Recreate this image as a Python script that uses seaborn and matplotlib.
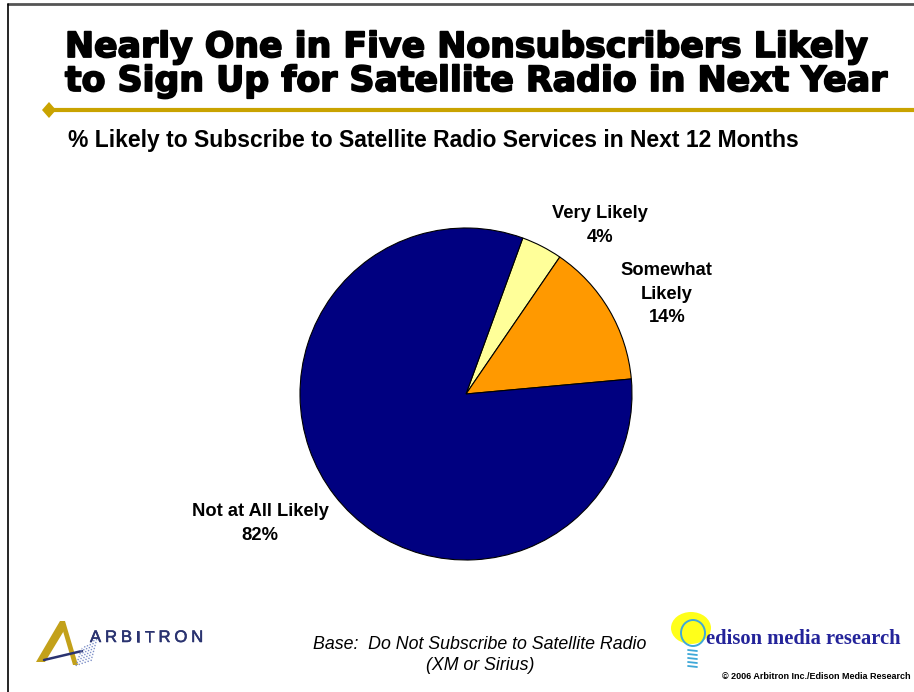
import matplotlib
matplotlib.use("Agg")
import matplotlib.pyplot as plt
import matplotlib.patheffects as pe
import seaborn as sns
from matplotlib.lines import Line2D
from matplotlib.patches import Polygon, Ellipse

# Survey responses: likelihood to subscribe to satellite radio in the next 12 months
categories = ["Very Likely", "Somewhat Likely", "Not at All Likely"]
shares = [4, 14, 82]
label_text = ["Very Likely", "Somewhat\nLikely", "Not at All Likely"]
slice_colors = ["#FFFF99", "#FF9900", "#000080"]

title_lines = ["Nearly One in Five Nonsubscribers Likely",
               "to Sign Up for Satellite Radio in Next Year"]
subtitle = "% Likely to Subscribe to Satellite Radio Services in Next 12 Months"
base_note = "Base:  Do Not Subscribe to Satellite Radio\n(XM or Sirius)"
copyright_note = "\u00a9 2006 Arbitron Inc./Edison Media Research"
arbitron_name = "ARBITRON"
edison_name = "edison media research"

sns.set_theme(style="white")
plt.rcParams["font.family"] = ["Liberation Sans", "DejaVu Sans"]

W, H = 914, 692
fig = plt.figure(figsize=(W / 100, H / 100), dpi=100)
fig.patch.set_facecolor("white")
renderer = fig.canvas.get_renderer()


def fx(x):
    return x / W


def fy(y):
    return 1 - y / H


# slide frame
fig.add_artist(Line2D([fx(8), 1], [fy(4), fy(4)], color="#555555", lw=2))
fig.add_artist(Line2D([fx(8), fx(8)], [fy(4), 0], color="black", lw=1.2))

# title, heavy face
for i, line in enumerate(title_lines):
    fig.text(fx(65), fy(57 + 34 * i), line, family="DejaVu Sans",
             fontweight="bold", fontsize=25, color="black",
             ha="left", va="baseline",
             path_effects=[pe.withStroke(linewidth=1.3, foreground="black")])

# gold rule with diamond
gold = "#C9A300"
fig.add_artist(Line2D([fx(50), 1], [fy(110), fy(110)], color=gold, lw=3))
fig.add_artist(Polygon([[fx(42), fy(110)], [fx(49), fy(102)],
                        [fx(56), fy(110)], [fx(49), fy(118)]],
                       closed=True, facecolor=gold, edgecolor="none",
                       transform=fig.transFigure))

fig.text(fx(68), fy(147), subtitle, fontweight="bold", fontsize=16.45,
         ha="left", va="baseline", color="black")

# pie chart
cx, cy, r = 466, 394, 166
ax = fig.add_axes([fx(cx - r), fy(cy + r), 2 * r / W, 2 * r / H])
ax.pie(shares, colors=slice_colors, startangle=70, counterclock=False,
       wedgeprops=dict(edgecolor="black", linewidth=0.8))
ax.set_xlim(-1, 1)
ax.set_ylim(-1, 1)
ax.set_aspect("equal")
ax.axis("off")

label_pos = [(0.807, 1.015), (1.21, 0.60), (-1.241, -0.78)]
for txt, val, (lx, ly) in zip(label_text, shares, label_pos):
    ax.text(lx, ly, f"{txt}\n{val}%", ha="center", va="center",
            fontweight="bold", fontsize=13.2, linespacing=1.5,
            color="black", clip_on=False)

# footnote
fig.text(fx(480), fy(655), base_note, style="italic", fontsize=12.8,
         ha="center", va="center", linespacing=1.25, color="black")
fig.text(fx(911), fy(679), copyright_note, fontweight="bold", fontsize=6.5,
         ha="right", va="baseline", color="black")

# Arbitron mark
navy = "#2A3370"
fig.add_artist(Polygon([[fx(36), fy(662)], [fx(60), fy(621)], [fx(65), fy(621)],
                        [fx(65), fy(629)], [fx(45), fy(662)]],
                       closed=True, facecolor="#C3A11A", edgecolor="none",
                       transform=fig.transFigure))
fig.add_artist(Polygon([[fx(60), fy(621)], [fx(65), fy(621)], [fx(78), fy(665)],
                        [fx(73), fy(665)]],
                       closed=True, facecolor="#C3A11A", edgecolor="none",
                       transform=fig.transFigure))
fig.add_artist(Line2D([fx(44), fx(82)], [fy(660), fy(651)], color=navy, lw=1.8))
for k in range(6):
    fig.add_artist(Line2D([fx(76 + 3 * k), fx(82 + 3 * k)],
                          [fy(666 - k), fy(648 - 2 * k)],
                          color="#7E90C8", lw=1.0, ls=(0, (1, 1.2))))
# letter-spaced wordmark
x_cursor = 90
for ch in arbitron_name:
    t = fig.text(fx(x_cursor), fy(642), ch, fontsize=12, color=navy,
                 ha="left", va="baseline",
                 path_effects=[pe.withStroke(linewidth=0.4, foreground=navy)])
    x_cursor += t.get_window_extent(renderer).width + 3.9

# Edison mark
blue = "#3FA8D8"
fig.add_artist(Ellipse((fx(691), fy(628)), 40 / W, 32 / H, facecolor="#FFFF1A",
                       edgecolor="none", transform=fig.transFigure))
fig.add_artist(Ellipse((fx(693), fy(633)), 24 / W, 26 / H, facecolor="none",
                       edgecolor=blue, lw=1.4, transform=fig.transFigure))
for k in range(5):
    y0 = 650 + 4 * k
    fig.add_artist(Line2D([fx(688), fx(697)], [fy(y0), fy(y0 + 1)],
                          color=blue, lw=1.3))
fig.text(fx(706), fy(644), edison_name, family="Liberation Serif",
         fontweight="bold", fontsize=14.8, color="#24249A",
         ha="left", va="baseline")

fig.savefig("out.png", dpi=100, facecolor="white")
